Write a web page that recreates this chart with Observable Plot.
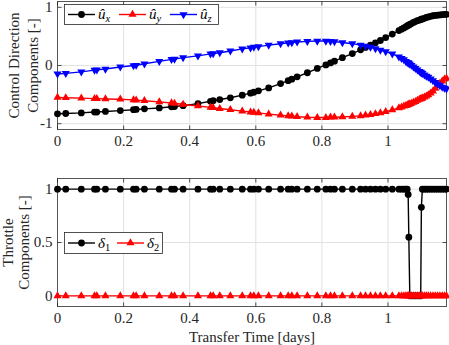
<!DOCTYPE html>
<html><head><meta charset="utf-8">
<script src="https://cdn.jsdelivr.net/npm/d3@7"></script>
<script src="https://cdn.jsdelivr.net/npm/@observablehq/plot@0.6"></script>
<style>
body{margin:0;background:#fff;}
#wrap{position:relative;width:449px;height:345px;font-family:"Liberation Serif",serif;overflow:hidden;}
#wrap > svg{display:block}
.leg{position:absolute;}
</style></head><body><div id="wrap"></div>
<script>
// ---- data ----
const t = [0, 0.025, 0.072, 0.112, 0.119, 0.145, 0.19, 0.23, 0.238, 0.263, 0.308, 0.345, 0.354, 0.38, 0.425, 0.463, 0.471, 0.491, 0.523, 0.559, 0.584, 0.594, 0.608, 0.639, 0.675, 0.698, 0.709, 0.725, 0.756, 0.786, 0.812, 0.826, 0.838, 0.862, 0.892, 0.917, 0.932, 0.947, 0.962, 0.977, 0.993, 1.013, 1.033, 1.041, 1.048, 1.054, 1.058, 1.061, 1.063, 1.066, 1.071, 1.077, 1.083, 1.089, 1.095, 1.099, 1.101, 1.104, 1.11, 1.116, 1.122, 1.129, 1.136, 1.143, 1.15, 1.157, 1.164, 1.171, 1.177];
const ux = [-0.83, -0.825, -0.815, -0.80, -0.80, -0.79, -0.775, -0.76, -0.755, -0.745, -0.73, -0.71, -0.705, -0.69, -0.655, -0.615, -0.605, -0.585, -0.555, -0.51, -0.475, -0.46, -0.435, -0.385, -0.31, -0.26, -0.235, -0.195, -0.125, -0.05, 0.01, 0.045, 0.075, 0.135, 0.205, 0.27, 0.31, 0.35, 0.39, 0.43, 0.48, 0.54, 0.60, 0.625, 0.645, 0.665, 0.68, 0.69, 0.695, 0.705, 0.72, 0.74, 0.755, 0.77, 0.78, 0.79, 0.795, 0.80, 0.81, 0.825, 0.835, 0.845, 0.855, 0.86, 0.865, 0.87, 0.875, 0.878, 0.88];
const uy = [-0.55, -0.555, -0.56, -0.57, -0.57, -0.575, -0.58, -0.59, -0.595, -0.605, -0.625, -0.645, -0.65, -0.67, -0.695, -0.72, -0.725, -0.74, -0.76, -0.785, -0.80, -0.805, -0.815, -0.835, -0.855, -0.865, -0.87, -0.88, -0.89, -0.895, -0.895, -0.89, -0.89, -0.885, -0.875, -0.865, -0.855, -0.845, -0.83, -0.815, -0.795, -0.765, -0.73, -0.715, -0.70, -0.69, -0.68, -0.675, -0.67, -0.66, -0.65, -0.635, -0.62, -0.60, -0.585, -0.575, -0.57, -0.56, -0.545, -0.525, -0.505, -0.475, -0.44, -0.395, -0.35, -0.31, -0.27, -0.235, -0.22];
const uz = [-0.145, -0.135, -0.11, -0.08, -0.075, -0.06, -0.025, 0.0, 0.005, 0.03, 0.07, 0.105, 0.11, 0.135, 0.165, 0.2, 0.205, 0.22, 0.25, 0.285, 0.305, 0.315, 0.325, 0.35, 0.375, 0.39, 0.395, 0.405, 0.415, 0.42, 0.42, 0.415, 0.41, 0.395, 0.375, 0.35, 0.335, 0.315, 0.29, 0.265, 0.24, 0.2, 0.15, 0.125, 0.1, 0.07, 0.055, 0.045, 0.04, 0.025, 0.005, -0.025, -0.05, -0.075, -0.1, -0.115, -0.125, -0.135, -0.16, -0.18, -0.2, -0.23, -0.26, -0.29, -0.32, -0.345, -0.37, -0.39, -0.40];
const d1 = [1, 1, 1, 1, 1, 1, 1, 1, 1, 1, 1, 1, 1, 1, 1, 1, 1, 1, 1, 1, 1, 1, 1, 1, 1, 1, 1, 1, 1, 1, 1, 1, 1, 1, 1, 1, 1, 1, 1, 1, 1, 1, 1, 1, 1, 1, 1, 0.95, 0.55, 0, 0, 0, 0, 0, 0, 0, 0.83, 1, 1, 1, 1, 1, 1, 1, 1, 1, 1, 1, 1];
const d2 = [0, 0, 0, 0, 0, 0, 0, 0, 0, 0, 0, 0, 0, 0, 0, 0, 0, 0, 0, 0, 0, 0, 0, 0, 0, 0, 0, 0, 0, 0, 0, 0, 0, 0, 0, 0, 0, 0, 0, 0, 0, 0, 0, 0, 0, 0, 0, 0, 0, 0, 0, 0, 0, 0, 0, 0, 0, 0, 0, 0, 0, 0, 0, 0, 0, 0, 0, 0, 0];
const xTicks = [0, 0.2, 0.4, 0.6, 0.8, 1];
const yTicksTop = [-1, 0, 1];
const yTicksBot = [0, 0.5, 1];
const topYLabel = "Control Direction\nComponents [-]";
const botYLabel = "Throttle\nComponents [-]";
const xLabel = "Transfer Time [days]";
const topLegend = [{base: "û", sub: "x"}, {base: "û", sub: "y"}, {base: "û", sub: "z"}];
const botLegend = [{base: "δ", sub: "1"}, {base: "δ", sub: "2"}];

// ---- build ----
const rows = t.map((v, i) => ({t: v, ux: ux[i], uy: uy[i], uz: uz[i], d1: d1[i], d2: d2[i]}));
const font = '"Liberation Serif", serif';
const FS = 15;
const axisColor = "#262626";
const gridColor = "#e2e2e2";
const BLACK = "#000000", RED = "#ff0000", BLUE = "#0000ff";
const TRI_R = 3.0, CIRC_R = 3.4;

const tickSym = (dx, dy) => ({draw(ctx) { ctx.moveTo(0, 0); ctx.lineTo(dx, dy); }});
function frameTicks(xt, yt) {
  const o = {fill: "none", stroke: axisColor, strokeWidth: 0.8};
  return [
    Plot.dot(xt, {x: d => d, frameAnchor: "bottom", symbol: tickSym(0, -4), ...o}),
    Plot.dot(xt, {x: d => d, frameAnchor: "top", symbol: tickSym(0, 4), ...o}),
    Plot.dot(yt, {y: d => d, frameAnchor: "left", symbol: tickSym(4, 0), ...o}),
    Plot.dot(yt, {y: d => d, frameAnchor: "right", symbol: tickSym(-4, 0), ...o})
  ];
}
function base(yt) {
  return [
    Plot.gridX(xTicks, {stroke: gridColor, strokeOpacity: 1, strokeWidth: 1}),
    Plot.gridY(yt, {stroke: gridColor, strokeOpacity: 1, strokeWidth: 1}),
    Plot.axisX(xTicks, {tickSize: 0, tickPadding: 6, label: null, tickFormat: d => String(d), fill: axisColor}),
    Plot.axisY(yt, {tickSize: 0, tickPadding: 5, label: null, tickFormat: d => String(d), fill: axisColor}),
    Plot.frame({stroke: "#555", strokeWidth: 1}),
    ...frameTicks(xTicks, yt)
  ];
}

const topChart = Plot.plot({
  width: 449, height: 150, marginLeft: 57, marginRight: 3, marginTop: 1, marginBottom: 21,
  style: {fontFamily: font, fontSize: FS + "px", background: "#fff", overflow: "visible"},
  x: {domain: [0, 1.177]},
  y: {domain: [-1.1, 1.1]},
  marks: [
    ...base(yTicksTop),
    Plot.line(rows, {x: "t", y: "ux", stroke: BLACK, strokeWidth: 1.4}),
    Plot.dot(rows, {x: "t", y: "ux", r: CIRC_R, fill: BLACK, stroke: "none", symbol: "circle"}),
    Plot.line(rows, {x: "t", y: "uy", stroke: RED, strokeWidth: 1.4}),
    Plot.dot(rows, {x: "t", y: "uy", r: TRI_R, fill: RED, stroke: "none", symbol: "triangle"}),
    Plot.line(rows, {x: "t", y: "uz", stroke: BLUE, strokeWidth: 1.4}),
    Plot.dot(rows, {x: "t", y: "uz", r: TRI_R, fill: BLUE, stroke: "none", symbol: "triangle", rotate: 180}),
    Plot.text([topYLabel], {text: d => d, frameAnchor: "left", textAnchor: "middle", dx: -35, rotate: -90, lineHeight: 1.25, fontSize: FS, fill: axisColor})
  ]
});

const botChart = Plot.plot({
  width: 449, height: 195, marginLeft: 57, marginRight: 3, marginTop: 28, marginBottom: 39,
  style: {fontFamily: font, fontSize: FS + "px", background: "#fff", overflow: "visible"},
  x: {domain: [0, 1.177]},
  y: {domain: [-0.1, 1.1]},
  marks: [
    ...base(yTicksBot),
    Plot.line(rows, {x: "t", y: "d1", stroke: BLACK, strokeWidth: 1.4}),
    Plot.dot(rows, {x: "t", y: "d1", r: CIRC_R, fill: BLACK, stroke: "none", symbol: "circle"}),
    Plot.line(rows, {x: "t", y: "d2", stroke: RED, strokeWidth: 1.4}),
    Plot.dot(rows, {x: "t", y: "d2", r: TRI_R, fill: RED, stroke: "none", symbol: "triangle"}),
    Plot.text([botYLabel], {text: d => d, frameAnchor: "left", textAnchor: "middle", dx: -42, rotate: -90, lineHeight: 1.1, fontSize: FS, fill: axisColor}),
    Plot.text([xLabel], {text: d => d, frameAnchor: "bottom", dy: 31, lineAnchor: "middle", fontSize: FS, fill: axisColor})
  ]
});

const wrap = document.getElementById("wrap");
wrap.appendChild(topChart);
wrap.appendChild(botChart);

// ---- legends (overlaid inside the axes) ----
function legend(left, top, w, h, items, colors, symbols, step) {
  const svg = d3.create("svg").attr("class", "leg").attr("width", w).attr("height", h)
    .style("left", left + "px").style("top", top + "px");
  svg.append("rect").attr("x", 0.5).attr("y", 0.5).attr("width", w - 1).attr("height", h - 1)
    .attr("fill", "#fff").attr("stroke", axisColor).attr("stroke-width", 0.8);
  const cy = h / 2;
  items.forEach((it, i) => {
    const x0 = 4 + i * step;
    svg.append("line").attr("x1", x0).attr("x2", x0 + 27).attr("y1", cy).attr("y2", cy)
      .attr("stroke", colors[i]).attr("stroke-width", 1.4);
    const sym = symbols[i];
    if (sym === "circle") {
      svg.append("circle").attr("cx", x0 + 13.5).attr("cy", cy).attr("r", CIRC_R).attr("fill", colors[i]);
    } else {
      svg.append("path").attr("d", d3.symbol(d3.symbolTriangle, Math.PI * TRI_R * TRI_R)())
        .attr("transform", `translate(${x0 + 13.5},${cy}) rotate(${sym === "down" ? 180 : 0})`)
        .attr("fill", colors[i]);
    }
    const tx = svg.append("text").attr("x", x0 + 30).attr("y", cy + 4.5)
      .attr("font-family", font).attr("font-size", 15).attr("fill", "#000");
    tx.append("tspan").attr("font-style", "italic").text(it.base);
    tx.append("tspan").attr("font-style", /\d/.test(it.sub) ? "normal" : "italic")
      .attr("font-size", 10.5).attr("dy", 3).text(it.sub);
  });
  return svg.node();
}
wrap.appendChild(legend(64, 4, 155, 21, topLegend, [BLACK, RED, BLUE], ["circle", "up", "down"], 51));
wrap.appendChild(legend(64, 232, 99, 22, botLegend, [BLACK, RED], ["circle", "up"], 49));
</script></body></html>
